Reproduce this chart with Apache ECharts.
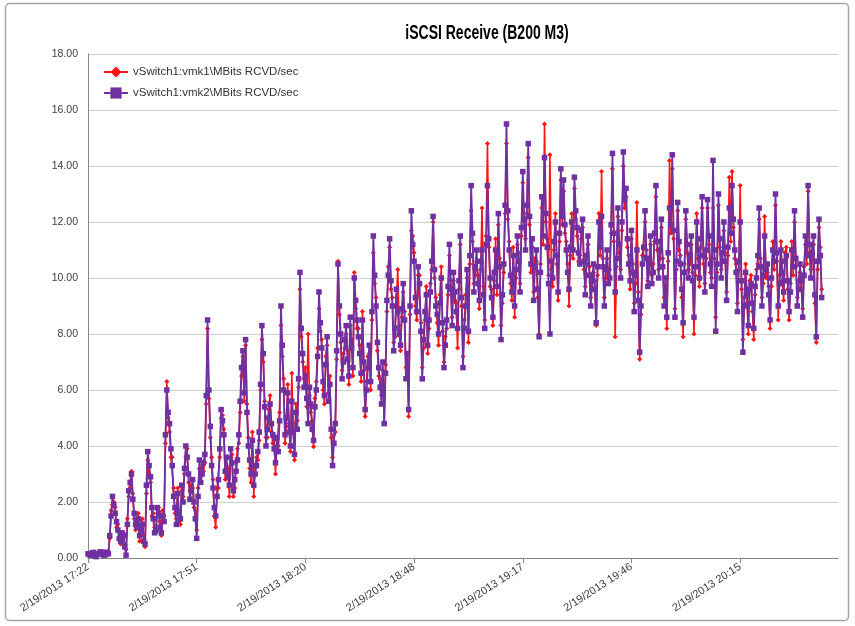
<!DOCTYPE html>
<html>
<head>
<meta charset="utf-8">
<script src="https://cdn.jsdelivr.net/npm/echarts@6/dist/echarts.min.js"></script>
<style>
html,body{margin:0;padding:0;background:#fff;}
#chart{width:855px;height:626px;}
</style>
</head>
<body>
<div id="chart"></div>
<script>
const titleText = 'iSCSI Receive (B200 M3)';
const seriesNames = ['vSwitch1:vmk1\\MBits RCVD/sec', 'vSwitch1:vmk2\\MBits RCVD/sec'];
const tickLabels = ['2/19/2013 17:22','2/19/2013 17:51','2/19/2013 18:20','2/19/2013 18:48','2/19/2013 19:17','2/19/2013 19:46','2/19/2013 20:15'];
const categoryCount = 553;
const labelEvery = 80;

const vmk1 = [
0.1,0.15,0.15,0.12,0.15,0.18,0.1,0.2,0.2,0.14,0.15,0.2,0.15,0.1,0.1,0.18,0.7,1.7,1.9,2.0,
1.8,1.1,1.2,0.9,0.5,0.7,0.9,0.5,0.3,1.4,2.2,2.5,3.1,2.3,1.4,1.0,1.3,1.6,0.6,1.2,
1.4,0.8,0.4,2.3,3.5,3.0,2.7,1.5,1.6,1.1,0.9,1.6,1.8,1.3,0.8,1.7,1.5,4.1,6.3,5.0,
4.5,3.6,3.6,2.5,1.6,1.4,2.5,1.3,1.2,2.4,2.2,3.0,3.6,3.9,2.7,2.4,2.6,2.5,1.8,1.7,
1.0,2.5,3.2,3.0,3.3,3.1,3.4,5.5,8.2,5.7,4.3,3.6,2.8,1.5,1.1,2.5,2.5,3.6,5.0,5.1,
4.6,2.8,3.3,3.2,2.2,3.6,3.7,2.2,2.5,3.4,3.9,4.1,5.2,6.5,7.2,5.6,7.6,5.5,4.3,3.2,
2.7,4.5,2.2,3.3,3.6,3.5,4.2,6.0,7.8,7.0,5.6,4.3,4.3,5.3,5.8,4.5,4.1,4.2,3.0,4.0,
4.0,5.2,8.3,7.2,6.4,4.1,4.7,6.2,4.8,3.8,6.6,4.8,3.5,5.5,4.9,6.1,9.6,7.9,7.0,6.4,
6.8,5.4,8.0,5.8,5.2,4.9,3.97,5.7,6.3,7.5,8.9,8.1,7.8,6.0,5.5,7.2,7.6,5.9,6.5,4.3,
3.6,4.4,4.5,7.1,10.6,8.7,7.7,6.7,7.3,7.5,8.0,7.4,6.2,8.3,7.8,6.5,10.2,8.9,8.2,8.2,
7.6,6.3,8.8,6.7,5.05,6.3,7.2,7.3,6.0,8.5,10.9,9.8,9.3,7.4,6.5,6.4,5.8,6.7,4.8,6.9,
8.8,10.4,11.1,9.6,9.3,7.7,7.9,9.3,10.3,8.3,7.4,8.6,9.5,8.8,6.8,7.0,5.05,8.7,11.7,11.5,
10.9,9.0,8.5,10.1,10.1,8.4,6.8,7.5,8.5,9.7,7.3,8.2,9.8,10.3,12.0,10.0,9.3,8.4,7.6,9.4,
10.4,8.1,7.0,7.9,8.2,9.4,10.8,9.9,8.6,9.9,9.2,9.1,7.5,9.6,11.2,9.0,7.2,8.5,9.4,10.0,
7.7,10.5,12.4,11.3,9.8,10.1,10.6,10.1,8.9,10.3,12.5,9.7,8.5,11.5,14.8,11.1,9.7,9.6,8.3,9.9,
11.4,9.4,11.9,10.7,8.3,9.1,10.2,12.3,14.8,12.1,11.3,9.8,9.2,11.1,8.6,10.0,11.2,10.9,9.8,11.5,
13.4,11.8,11.4,12.3,14.3,11.9,10.2,11.1,9.5,10.7,10.6,9.3,8.0,10.5,12.5,11.2,15.5,12.0,11.4,10.1,
14.4,10.3,9.7,11.0,12.3,10.5,9.2,11.3,13.5,11.9,13.1,11.6,11.3,10.5,9.0,10.8,12.3,10.7,13.2,12.1,
11.5,10.6,10.8,11.4,11.8,10.3,9.7,10.5,11.2,10.4,9.3,9.6,10.2,9.9,8.3,10.1,12.3,10.8,13.8,10.7,
9.3,10.0,10.7,10.1,10.3,11.6,13.9,11.3,7.9,10.4,12.2,10.9,10.3,11.7,14.0,12.5,12.9,11.1,10.8,9.6,
11.4,10.5,9.1,9.8,12.7,9.5,7.1,8.7,10.8,10.8,12.0,11.0,9.9,10.2,11.2,10.1,10.5,11.3,12.9,11.0,
10.3,10.7,11.8,10.7,9.3,9.7,8.2,10.6,14.2,11.6,13.9,11.4,8.9,10.3,12.4,11.0,10.8,9.3,7.9,10.5,
12.1,10.9,10.3,10.5,11.2,10.2,8.0,10.1,12.3,10.7,9.7,11.1,12.5,10.5,9.8,10.7,12.5,11.2,10.2,10.0,
12.5,10.7,8.6,10.2,12.6,11.1,10.3,10.6,11.7,10.9,9.5,10.8,13.6,11.3,13.8,11.8,10.7,10.5,9.1,10.3,
13.3,9.6,7.8,9.3,10.5,9.1,8.0,9.9,10.1,8.8,7.8,9.4,10.3,10.5,12.1,10.7,9.3,9.8,12.2,10.0,
10.2,9.7,8.2,9.7,11.3,10.3,12.6,10.6,8.5,10.1,11.3,9.9,9.2,10.9,11.1,9.6,8.5,9.8,11.3,10.1,
12.0,10.4,9.3,9.9,10.2,9.6,8.9,10.4,11.2,10.5,13.1,10.9,10.3,11.2,11.2,9.1,7.7,10.3,11.8,11.1,
9.6
];

const vmk2 = [
0.15,0.12,0.1,0.18,0.2,0.1,0.05,0.15,0.15,0.22,0.2,0.12,0.1,0.2,0.2,0.15,0.8,1.5,2.2,1.9,
1.6,1.3,1.0,0.7,0.6,0.9,0.8,0.4,0.1,1.2,2.4,2.7,3.0,2.1,1.6,1.2,1.1,1.4,0.8,1.0,
1.2,0.6,0.5,2.6,3.8,3.3,2.9,1.8,1.4,0.9,1.0,1.8,1.6,1.1,0.9,1.5,1.3,4.4,6.0,5.2,
4.8,3.9,3.3,2.2,1.8,1.2,2.3,1.6,1.4,2.6,2.0,3.2,4.0,3.6,3.0,2.1,2.4,2.8,2.0,1.4,
0.7,2.2,3.5,2.7,3.0,3.4,3.7,5.8,8.5,6.0,4.7,3.3,2.5,1.8,1.5,2.2,2.8,3.9,5.3,4.9,
4.4,3.1,3.6,2.9,2.6,3.9,3.4,2.4,2.8,3.1,3.5,4.4,5.6,6.8,7.4,5.9,7.8,5.2,4.0,3.5,
3.0,4.2,2.6,3.0,3.3,3.8,4.5,6.2,8.3,7.3,5.4,4.0,4.6,5.0,5.5,4.8,4.4,3.9,3.4,4.3,
3.8,4.9,9.0,7.6,6.0,4.4,5.0,5.9,4.5,4.0,5.6,4.5,3.7,5.2,4.6,6.4,10.2,8.2,7.3,6.1,
6.5,5.7,4.8,6.1,5.5,4.6,4.2,5.4,6.0,7.2,9.5,8.4,7.5,6.3,5.8,6.9,7.9,5.6,6.2,4.6,
3.3,4.1,4.8,7.4,10.5,9.0,8.0,6.4,7.0,7.8,8.3,7.1,6.5,8.6,7.5,6.8,10.0,9.2,8.5,7.9,
7.3,6.6,8.5,7.0,5.3,6.0,6.8,7.6,6.3,8.8,11.5,10.1,9.0,7.7,6.8,6.1,5.5,7.0,4.8,6.6,
9.2,10.1,11.4,9.9,9.0,7.4,8.2,9.6,8.8,8.0,7.6,8.9,9.8,8.5,6.4,7.3,5.3,9.0,12.4,11.2,
10.6,9.3,8.8,10.4,9.8,8.1,6.4,7.8,8.8,9.4,7.6,8.5,9.5,10.6,12.2,10.3,9.0,8.7,8.0,9.1,
10.0,8.4,6.8,7.6,8.5,9.7,11.2,9.6,8.3,10.2,9.5,8.8,8.2,9.9,11.5,9.3,6.8,8.2,9.0,10.3,
8.1,10.8,13.3,11.6,9.5,10.4,11.0,9.8,9.2,10.6,11.0,9.4,8.2,11.2,13.3,11.4,10.0,9.3,8.6,10.2,
11.0,9.7,12.3,10.4,7.8,9.4,10.5,12.6,15.5,12.4,11.0,10.1,9.5,10.8,9.0,10.3,11.5,10.6,9.5,11.8,
13.8,12.1,11.0,12.6,14.8,12.2,10.5,11.4,9.2,10.4,11.0,9.6,7.9,10.2,12.9,11.5,14.3,12.3,11.1,9.8,
8.0,10.6,10.0,11.3,12.0,10.8,9.5,11.6,13.9,12.2,13.5,11.9,11.0,10.2,9.6,11.1,12.0,11.0,13.6,12.4,
11.8,10.9,10.5,11.7,12.1,10.6,9.4,10.8,11.5,10.1,9.0,9.9,10.5,9.6,8.4,10.4,12.0,11.1,12.2,10.4,
9.0,10.3,11.0,9.8,10.0,11.9,14.45,11.6,9.5,10.7,12.5,11.2,10.0,12.0,14.5,12.8,13.2,11.4,10.5,9.9,
11.7,10.2,8.8,10.1,11.0,9.2,7.35,9.0,10.5,11.1,12.4,10.7,9.7,10.5,11.5,9.8,10.2,11.6,13.3,11.3,
10.0,11.0,12.1,10.4,9.0,10.0,8.6,10.9,12.5,11.9,14.4,11.7,8.6,10.6,12.7,11.3,10.5,9.6,8.4,10.2,
12.4,11.2,10.0,10.8,11.5,9.9,8.6,10.4,12.0,11.0,10.0,11.4,12.9,10.8,9.5,11.0,12.8,11.5,10.5,9.7,
14.2,11.0,8.1,10.5,13.0,11.4,10.0,10.9,12.0,10.6,9.2,11.1,12.5,11.6,13.3,12.1,11.0,10.2,8.8,10.6,
12.0,9.9,7.35,9.0,10.2,9.4,8.3,9.6,9.8,9.1,8.2,9.7,10.0,10.8,12.5,10.4,9.0,10.1,11.5,10.3,
10.5,9.4,8.5,10.0,11.0,10.6,13.0,10.9,9.0,9.8,11.0,10.2,9.5,10.6,10.8,9.9,8.8,9.5,11.0,10.4,
12.4,10.7,9.0,9.6,10.5,9.9,8.6,10.1,11.5,10.8,13.3,11.2,10.0,10.9,11.5,9.4,7.9,10.6,12.1,10.8,
9.3
];

const categories = [];
for (let i = 0; i < categoryCount; i++) {
  categories.push(i % labelEvery === 0 ? (tickLabels[i / labelEvery] || '') : '');
}

const chart = echarts.init(document.getElementById('chart'), null, {renderer: 'canvas'});
const uiFont = "'Liberation Sans',Arial,sans-serif";
chart.setOption({
  animation: false,
  backgroundColor: '#ffffff',
  graphic: [
    {
      type: 'rect',
      shape: {x: 5.5, y: 3.5, width: 843, height: 617, r: 4},
      style: {fill: 'none', stroke: '#a6a6a6', lineWidth: 1.5},
      silent: true
    },
    {
      type: 'text',
      x: 487,
      y: 33,
      scaleX: 0.7,
      silent: true,
      style: {
        text: titleText,
        font: "bold 20px 'Liberation Sans', Arial, sans-serif",
        fill: '#000',
        align: 'center',
        verticalAlign: 'middle',
        textAlign: 'center',
        textVerticalAlign: 'middle'
      }
    }
  ],
  legend: {
    orient: 'vertical',
    left: 98,
    top: 61,
    itemGap: 9,
    itemWidth: 24,
    itemHeight: 14,
    textStyle: {fontFamily: uiFont, fontSize: 11.5, color: '#333'},
    data: [seriesNames[0], seriesNames[1]]
  },
  grid: {left: 88, right: 17, top: 54, bottom: 68, containLabel: false},
  xAxis: {
    type: 'category',
    data: categories,
    boundaryGap: false,
    axisLine: {lineStyle: {color: '#868686', width: 1}},
    axisTick: {
      length: 5,
      interval: function (i) { return i % labelEvery === 0; },
      lineStyle: {color: '#868686'}
    },
    axisLabel: {
      interval: function (i) { return i % labelEvery === 0; },
      rotate: 33,
      margin: 8,
      fontFamily: uiFont,
      fontSize: 11,
      color: '#404040'
    },
    splitLine: {show: false}
  },
  yAxis: {
    type: 'value',
    min: 0,
    max: 18,
    interval: 2,
    axisLine: {show: true, lineStyle: {color: '#868686', width: 1}},
    axisTick: {show: false},
    axisLabel: {
      formatter: function (v) { return v.toFixed(2); },
      fontFamily: uiFont,
      fontSize: 10.5,
      color: '#404040',
      margin: 10
    },
    splitLine: {lineStyle: {color: '#d0d0d0', width: 1}}
  },
  series: [
    {
      name: seriesNames[0],
      type: 'line',
      data: vmk1,
      symbol: 'diamond',
      symbolSize: 5,
      showAllSymbol: true,
      lineStyle: {color: '#ff1414', width: 1.6},
      itemStyle: {color: '#ff1414'},
      z: 2
    },
    {
      name: seriesNames[1],
      type: 'line',
      data: vmk2,
      symbol: 'rect',
      symbolSize: 5.5,
      showAllSymbol: true,
      lineStyle: {color: '#7030a0', width: 1.8},
      itemStyle: {color: '#7030a0'},
      z: 3
    }
  ]
});
</script>
</body>
</html>
